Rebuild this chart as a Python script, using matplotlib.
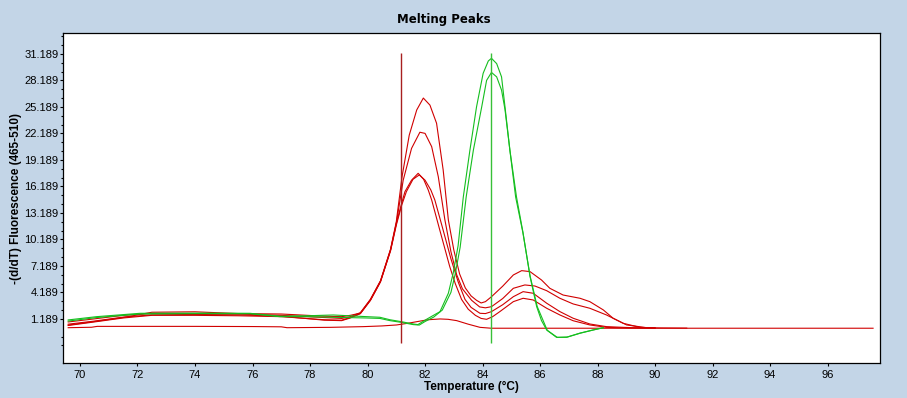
import matplotlib
matplotlib.use('Agg')
import matplotlib.pyplot as plt
from matplotlib.ticker import FixedLocator

# temperatures / -(d/dT) values, one pair of lists per curve
t_r1 = [69.59, 70.5, 71.5, 72.5, 74.0, 75.5, 77.0, 78.5, 79.1, 79.4, 79.75, 80.1, 80.45, 80.8, 81.0,
        81.2, 81.45, 81.71, 81.94, 82.17, 82.4, 82.63, 82.81, 83.0, 83.2, 83.4, 83.6, 83.79, 83.95,
        84.1, 84.31, 84.7, 85.07, 85.36, 85.65, 86.05, 86.34, 86.8, 87.39, 87.73, 88.2, 88.54, 89.01,
        89.71, 90.2, 91.1]
y_r1 = [0.85, 1.2, 1.6, 1.8, 1.8, 1.75, 1.6, 1.35, 1.25, 1.45, 1.9, 3.4, 5.5, 9.1, 12.2,
        17.3, 22.0, 24.85, 26.2, 25.4, 23.35, 18.06, 12.4, 9.0, 6.3, 4.7, 3.8, 3.3, 3.0,
        3.15, 3.71, 4.9, 6.17, 6.66, 6.55, 5.6, 4.66, 3.9, 3.53, 3.15, 2.21, 1.27, 0.51,
        0.2, 0.17, 0.15]

t_r2 = [69.59, 70.5, 71.5, 72.5, 74.0, 75.5, 77.0, 78.5, 79.1, 79.4, 79.75, 80.1, 80.45, 80.8, 81.0,
        81.24, 81.53, 81.82, 82.0, 82.23, 82.46, 82.69, 82.9, 83.1, 83.3, 83.62, 83.9, 84.1, 84.31,
        84.7, 85.07, 85.47, 85.82, 86.23, 86.69, 87.15, 87.73, 88.31, 88.89, 89.47, 90.0]
y_r2 = [0.6, 0.95, 1.4, 1.65, 1.7, 1.65, 1.5, 1.05, 1.0, 1.3, 1.8, 3.3, 5.4, 9.0, 12.0,
        16.9, 20.5, 22.33, 22.2, 20.7, 17.3, 12.4, 8.8, 6.2, 4.6, 3.3, 2.55, 2.45, 2.58,
        3.5, 4.66, 5.04, 4.92, 4.39, 3.53, 2.89, 2.4, 1.64, 0.7, 0.24, 0.17]

t_r3 = [69.59, 70.5, 71.5, 72.5, 74.0, 75.5, 77.0, 78.5, 79.1, 79.4, 79.75, 80.1, 80.45, 80.8, 81.0,
        81.18, 81.3, 81.53, 81.76, 81.95, 82.11, 82.23, 82.5, 82.86, 83.05, 83.27, 83.5, 83.75, 83.95,
        84.14, 84.35, 84.6, 85.07, 85.41, 85.76, 86.23, 86.69, 87.15, 87.73, 88.31, 89.0, 90.0]
y_r3 = [0.5, 0.9, 1.35, 1.95, 2.0, 1.8, 1.75, 1.5, 1.45, 1.6, 1.85, 3.4, 5.5, 9.0, 12.0,
        14.2, 15.6, 16.9, 17.68, 17.0, 15.8, 14.66, 11.4, 7.1, 5.2, 3.4, 2.3, 1.6, 1.25,
        1.15, 1.45, 2.02, 3.15, 3.53, 3.34, 2.4, 1.64, 0.99, 0.51, 0.24, 0.17, 0.15]

t_r4 = [69.59, 70.5, 71.5, 72.5, 74.0, 75.5, 77.0, 78.5, 79.1, 79.4, 79.75, 80.1, 80.45, 80.8, 81.0,
        81.18, 81.35, 81.58, 81.8, 82.0, 82.2, 82.34, 82.6, 82.9, 83.15, 83.39, 83.6, 83.91, 84.1,
        84.31, 84.7, 85.07, 85.41, 85.76, 86.23, 86.69, 87.15, 87.73, 88.31, 89.2, 90.0]
y_r4 = [0.45, 0.85, 1.3, 1.6, 1.6, 1.55, 1.45, 1.1, 1.05, 1.35, 1.8, 3.3, 5.4, 8.9, 11.8,
        14.0, 15.6, 17.0, 17.5, 16.9, 15.8, 14.66, 11.6, 8.0, 5.4, 3.4, 2.5, 1.83, 1.8,
        2.02, 2.8, 3.71, 4.28, 4.1, 2.97, 2.02, 1.27, 0.62, 0.32, 0.2, 0.16]

# no-template control, stays flat
t_r5 = [69.59, 70.4, 70.6, 72.0, 74.0, 76.0, 77.0, 77.2, 78.7, 79.85, 80.5, 81.01, 81.4, 81.71,
        82.1, 82.52, 82.8, 83.1, 83.5, 83.91, 84.3, 97.58]
y_r5 = [0.2, 0.25, 0.35, 0.35, 0.35, 0.33, 0.3, 0.2, 0.24, 0.32, 0.4, 0.51, 0.7, 0.88,
        1.1, 1.19, 1.15, 1.0, 0.6, 0.24, 0.14, 0.14]

t_g1 = [69.59, 70.58, 72.09, 74.17, 75.91, 76.95, 77.9, 78.81, 79.97, 80.43, 80.78, 81.18, 81.59,
        81.75, 82.05, 82.52, 82.81, 82.98, 83.15, 83.33, 83.56, 83.79, 84.02, 84.2, 84.31, 84.49,
        84.66, 84.78, 84.95, 85.18, 85.41, 85.65, 85.88, 86.05, 86.23, 86.57, 86.92, 87.39, 87.85, 88.2]
y_g1 = [1.08, 1.45, 1.83, 1.85, 1.83, 1.5, 1.55, 1.64, 1.45, 1.38, 1.1, 0.88, 0.62,
        0.55, 1.15, 2.02, 4.1, 6.4, 9.5, 15.0, 20.3, 25.2, 29.0, 30.4, 30.7, 30.1,
        28.6, 25.2, 20.3, 15.0, 10.9, 6.0, 2.6, 1.0, -0.06, -0.89, -0.89, -0.43, -0.06, 0.2]

t_g2 = [69.59, 70.58, 72.09, 74.17, 75.91, 76.95, 77.9, 78.81, 79.97, 80.43, 80.78, 81.18, 81.59,
        81.8, 82.0, 82.3, 82.6, 82.9, 83.05, 83.22, 83.43, 83.68, 83.97, 84.14, 84.31, 84.49, 84.66,
        84.78, 84.95, 85.15, 85.4, 85.65, 85.9, 86.25, 86.6, 86.95, 87.4, 87.85, 88.2]
y_g2 = [0.95, 1.35, 1.75, 1.8, 1.78, 1.45, 1.45, 1.38, 1.3, 1.25, 1.0, 0.8, 0.55,
        0.5, 0.9, 1.4, 2.2, 4.2, 6.3, 9.3, 15.0, 20.3, 25.2, 28.2, 29.1, 28.6, 27.1,
        24.9, 20.3, 15.0, 11.0, 6.1, 2.6, -0.1, -0.9, -0.85, -0.4, -0.05, 0.2]

# Tm cursor lines
tm_red = 81.17
tm_green = 84.31
tm_span = (-1.49, 31.34)

y_ticks = [1.189, 4.189, 7.189, 10.189, 13.189, 16.189, 19.189, 22.189, 25.189, 28.189, 31.189]
x_ticks = [70, 72, 74, 76, 78, 80, 82, 84, 86, 88, 90, 92, 94, 96]

bg = '#c3d5e7'
red = '#d00000'
green = '#14be1e'

plt.rcParams['font.family'] = ['Liberation Sans', 'DejaVu Sans']

fig = plt.figure(figsize=(9.07, 3.98), dpi=100, facecolor=bg)
ax = fig.add_axes([0.0698, 0.0872, 0.9004, 0.8291])
ax.set_facecolor('white')

for t, y in [(t_r5, y_r5), (t_r4, y_r4), (t_r3, y_r3), (t_r2, y_r2), (t_r1, y_r1)]:
    ax.plot(t, y, color=red, lw=0.8)
for t, y in [(t_g2, y_g2), (t_g1, y_g1)]:
    ax.plot(t, y, color=green, lw=0.8)

ax.vlines(tm_red, tm_span[0], tm_span[1], color='#a82020', lw=1.0)
ax.vlines(tm_green, tm_span[0], tm_span[1], color='#38c038', lw=1.0)

ax.set_xlim(69.42, 97.82)
ax.set_ylim(-3.83, 33.53)

ax.xaxis.set_major_locator(FixedLocator(x_ticks))
ax.yaxis.set_major_locator(FixedLocator(y_ticks))
ax.yaxis.set_minor_locator(FixedLocator([v + d for v in [-2.811] + y_ticks for d in (1, 2)
                                         if v + d < 33.5]))
ax.set_xticklabels([str(v) for v in x_ticks])
ax.set_yticklabels(['%.3f' % v for v in y_ticks])
ax.tick_params(axis='both', which='major', length=2.4, width=0.8, labelsize=8, color='black')
ax.tick_params(axis='y', which='major', pad=1.2)
ax.tick_params(axis='x', which='major', pad=2.5)
ax.tick_params(axis='y', which='minor', length=1.4, width=0.8)
ax.tick_params(axis='x', which='minor', length=0)

for s in ax.spines.values():
    s.set_linewidth(0.9)
    s.set_color('black')

ax.set_xlabel('Temperature (°C)', fontsize=8.5, fontweight='bold', va='top')
ax.xaxis.set_label_coords(0.5, -0.054)
ax.set_ylabel('-(d/dT) Fluorescence (465-510)', fontsize=8.5, fontweight='bold')
ax.yaxis.set_label_coords(-0.0506, 0.5)

fig.text(0.489, 0.952, 'Melting Peaks', ha='center', va='center', fontsize=8.5,
         fontweight='bold', family='DejaVu Sans')

fig.savefig('out.png', dpi=100, facecolor=bg)
